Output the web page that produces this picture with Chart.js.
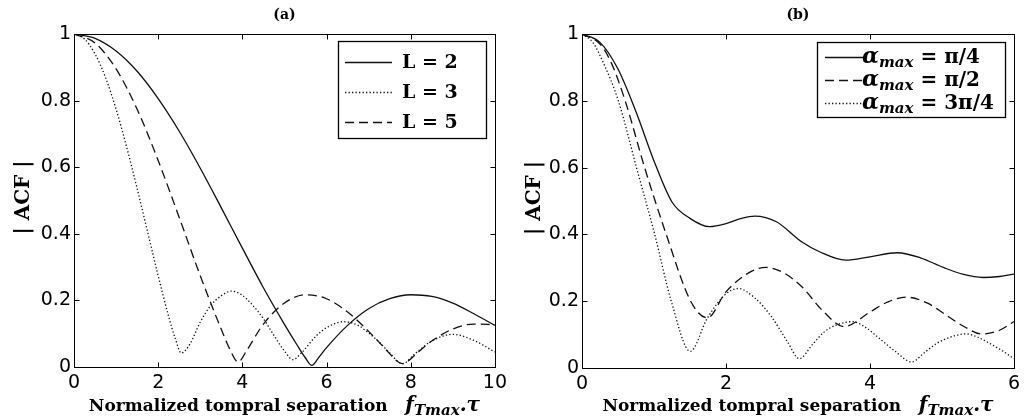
<!DOCTYPE html>
<html>
<head>
<meta charset="utf-8">
<script src="https://cdn.jsdelivr.net/npm/chart.js@4.4.1/dist/chart.umd.min.js"></script>
<style>
body { margin: 0; background: #fff; }
#wrap { position: relative; width: 1025px; height: 420px; }
#chartA { position: absolute; left: 0; top: 0; }
#chartB { position: absolute; left: 512px; top: 0; }
</style>
</head>
<body>
<div id="wrap">
<canvas id="chartA" width="512" height="420"></canvas>
<canvas id="chartB" width="513" height="420"></canvas>
</div>
<script>
// panel (a): |ACF| for different L
const labelsA = ['L = 2', 'L = 3', 'L = 5']
const xL2 = [0, 0.5, 1, 1.5, 2, 2.5, 3, 3.5, 4, 4.5, 5, 5.3, 5.5, 5.65, 5.8, 6, 6.5, 7, 7.5, 8, 8.5, 9, 9.5, 10]
const yL2 = [1, 0.987, 0.949, 0.888, 0.806, 0.708, 0.597, 0.478, 0.357, 0.238, 0.128, 0.066, 0.027, 0.005, 0.026, 0.058, 0.125, 0.175, 0.205, 0.217, 0.212, 0.192, 0.160, 0.125]
const xL3 = [0, 0.25, 0.5, 0.75, 1, 1.25, 1.5, 1.75, 2, 2.25, 2.4, 2.55, 2.75, 3, 3.25, 3.5, 3.75, 4, 4.25, 4.5, 4.75, 5, 5.2, 5.4, 5.75, 6, 6.4, 6.75, 7, 7.25, 7.5, 7.8, 8.1, 8.5, 9, 9.5, 10]
const yL3 = [1, 0.985, 0.940, 0.869, 0.774, 0.661, 0.536, 0.405, 0.274, 0.151, 0.088, 0.042, 0.068, 0.135, 0.185, 0.214, 0.228, 0.215, 0.185, 0.145, 0.095, 0.048, 0.022, 0.042, 0.093, 0.118, 0.136, 0.125, 0.102, 0.075, 0.042, 0.010, 0.040, 0.078, 0.098, 0.080, 0.045]
const xL5 = [0, 0.5, 1, 1.5, 2, 2.5, 3, 3.5, 3.7, 3.9, 4.1, 4.5, 5, 5.5, 6, 6.5, 7, 7.5, 7.65, 7.8, 7.95, 8.1, 8.5, 9, 9.5, 10]
const yL5 = [1, 0.973, 0.895, 0.774, 0.620, 0.449, 0.274, 0.113, 0.054, 0.015, 0.049, 0.129, 0.192, 0.217, 0.205, 0.165, 0.107, 0.040, 0.020, 0.010, 0.019, 0.036, 0.078, 0.114, 0.129, 0.127]

// panel (b): |ACF| for different alpha_max
const labelsB = ['α_max = π/4', 'α_max = π/2', 'α_max = 3π/4']
const xA1 = [0, 0.25, 0.5, 0.75, 1, 1.25, 1.5, 1.77, 2, 2.2, 2.4, 2.7, 3.05, 3.3, 3.66, 4, 4.38, 4.7, 5.02, 5.3, 5.57, 5.8, 6]
const yA1 = [1, 0.975, 0.895, 0.767, 0.62, 0.497, 0.448, 0.423, 0.432, 0.447, 0.455, 0.438, 0.378, 0.348, 0.323, 0.333, 0.345, 0.330, 0.301, 0.280, 0.271, 0.274, 0.281]
const xA2 = [0, 0.25, 0.41, 0.6, 0.87, 1.17, 1.51, 1.74, 2, 2.34, 2.56, 2.8, 3.05, 3.35, 3.64, 4.01, 4.25, 4.51, 4.8, 5.02, 5.3, 5.55, 5.8, 6]
const yA2 = [1, 0.97, 0.912, 0.80, 0.60, 0.40, 0.20, 0.15, 0.228, 0.288, 0.301, 0.285, 0.244, 0.17, 0.124, 0.169, 0.198, 0.212, 0.194, 0.164, 0.125, 0.102, 0.113, 0.139]
const xA3 = [0, 0.15, 0.3, 0.505, 0.757, 1.01, 1.24, 1.505, 1.74, 2, 2.17, 2.4, 2.63, 2.85, 3.02, 3.2, 3.37, 3.55, 3.76, 3.95, 4.1, 4.35, 4.58, 4.75, 4.93, 5.15, 5.34, 5.5, 5.66, 5.85, 6]
const yA3 = [1, 0.975, 0.912, 0.80, 0.60, 0.40, 0.20, 0.05, 0.149, 0.222, 0.238, 0.21, 0.154, 0.08, 0.028, 0.07, 0.109, 0.13, 0.139, 0.12, 0.094, 0.05, 0.018, 0.045, 0.074, 0.095, 0.102, 0.092, 0.074, 0.05, 0.028]

const yTicks = [0, 0.2, 0.4, 0.6, 0.8, 1]
const yTickLabels = ['0', '0.2', '0.4', '0.6', '0.8', '1']

const SERIF = '"DejaVu Serif", serif'
const SOLID = [], DASHED = [9, 5], DOTTED = [1.3, 2.2]

const pts = (xs, ys) => xs.map((x, i) => ({ x: x, y: ys[i] }))

function drawRich(ctx, parts, x, y, align) {
    let w = 0
    parts.forEach(p => { ctx.font = p.f; p.w = ctx.measureText(p.t).width; w += p.w })
    let cx = align === 'center' ? x - w / 2 : x
    ctx.textBaseline = 'alphabetic'
    ctx.textAlign = 'left'
    parts.forEach(p => {
        ctx.font = p.f
        ctx.fillText(p.t, cx, y + (p.dy || 0))
        cx += p.w
    })
}

function labelParts(label, o) {
    const m = label.match(/^(.*?)_(\w+)(.*)$/)
    if (!m) return [{ t: label, f: 'bold ' + o.size + 'px ' + SERIF }]
    return [
        { t: m[1], f: 'bold italic ' + (o.size + 2) + 'px ' + SERIF },
        { t: m[2], f: 'bold italic ' + o.subSize + 'px ' + SERIF, dy: 4 },
        { t: m[3], f: 'bold ' + o.size + 'px ' + SERIF }
    ]
}

const matlabFrame = {
    id: 'matlabFrame',
    afterDatasetsDraw(chart, args, opts) {
        const { ctx, chartArea: a, scales } = chart
        const L = Math.round(a.left) + 0.5, R = Math.round(a.right) + 0.5
        const T = Math.round(a.top) + 0.5, B = Math.round(a.bottom) + 0.5
        ctx.save()
        ctx.strokeStyle = '#000'
        ctx.lineWidth = 1
        ctx.setLineDash([])
        ctx.strokeRect(L, T, R - L, B - T)
        ctx.beginPath()
        scales.x.ticks.forEach(t => {
            const px = Math.round(scales.x.getPixelForValue(t.value)) + 0.5
            ctx.moveTo(px, B); ctx.lineTo(px, B - 5)
            ctx.moveTo(px, T); ctx.lineTo(px, T + 5)
        })
        scales.y.ticks.forEach(t => {
            const py = Math.round(scales.y.getPixelForValue(t.value)) + 0.5
            ctx.moveTo(L, py); ctx.lineTo(L + 5, py)
            ctx.moveTo(R, py); ctx.lineTo(R - 5, py)
        })
        ctx.stroke()

        const midX = (a.left + a.right) / 2
        ctx.fillStyle = '#000'
        // panel title
        ctx.font = 'bold 14px ' + SERIF
        ctx.textAlign = 'center'
        ctx.textBaseline = 'middle'
        ctx.fillText(opts.title, midX, 15)

        // y axis title
        ctx.save()
        ctx.translate(opts.yTitleX, (a.top + a.bottom) / 2 - 3)
        ctx.rotate(-Math.PI / 2)
        ctx.font = 'bold 20px ' + SERIF
        ctx.fillText('| ACF |', 0, 0)
        ctx.restore()

        // x axis title
        drawRich(ctx, [
            { t: 'Normalized tompral separation', f: 'bold 17px ' + SERIF },
            { t: '   ', f: 'bold 17px ' + SERIF },
            { t: 'f', f: 'bold italic 20px ' + SERIF },
            { t: 'Tmax', f: 'bold italic 15px ' + SERIF, dy: 4 },
            { t: '.τ', f: 'bold italic 20px ' + SERIF }
        ], midX, 411, 'center')

        // legend
        const lg = opts.legend
        const x0 = Math.round(a.right - lg.right - lg.width)
        const y0 = Math.round(a.top + lg.top)
        ctx.fillStyle = '#fff'
        ctx.fillRect(x0, y0, lg.width, lg.height)
        ctx.strokeStyle = '#000'
        ctx.lineWidth = 1.3
        ctx.strokeRect(x0 + 0.5, y0 + 0.5, lg.width, lg.height)
        ctx.fillStyle = '#000'
        chart.data.datasets.forEach((ds, i) => {
            const cy = y0 + lg.firstRow + i * lg.rowGap
            ctx.save()
            ctx.setLineDash(ds.borderDash)
            ctx.lineWidth = ds.borderWidth
            ctx.strokeStyle = ds.borderColor
            ctx.beginPath()
            ctx.moveTo(x0 + lg.lineX, cy + 0.5)
            ctx.lineTo(x0 + lg.lineX + lg.lineLen, cy + 0.5)
            ctx.stroke()
            ctx.restore()
            drawRich(ctx, labelParts(ds.label, lg), x0 + lg.textX, cy + 6, 'left')
        })
        ctx.restore()
    }
}

function makeDataset(label, xs, ys, dash) {
    return {
        label: label,
        data: pts(xs, ys),
        borderColor: '#111',
        borderWidth: 1.3,
        borderDash: dash,
        pointRadius: 0,
        fill: false,
        cubicInterpolationMode: 'monotone'
    }
}

function makeOptions(xMax, yWidth, xHeight, padRight, frame) {
    return {
        responsive: false,
        animation: false,
        devicePixelRatio: 1,
        layout: { padding: { top: 34, right: padRight, left: 0, bottom: 0 } },
        plugins: {
            legend: { display: false },
            tooltip: { enabled: false },
            matlabFrame: frame
        },
        scales: {
            x: {
                type: 'linear',
                min: 0, max: xMax,
                grid: { display: false, drawTicks: false },
                border: { display: false },
                ticks: { stepSize: 2, padding: 5, color: '#000', font: { family: '"DejaVu Sans"', size: 19 }, maxRotation: 0 },
                afterFit(scale) { scale.height = xHeight }
            },
            y: {
                min: 0, max: 1,
                grid: { display: false, drawTicks: false },
                border: { display: false },
                afterBuildTicks(scale) { scale.ticks = yTicks.map(v => ({ value: v })) },
                ticks: {
                    padding: 3, color: '#000', font: { family: '"DejaVu Sans"', size: 19 },
                    callback: (v) => yTickLabels[yTicks.indexOf(v)]
                },
                afterFit(scale) { scale.width = yWidth }
            }
        }
    }
}

new Chart(document.getElementById('chartA'), {
    type: 'line',
    data: {
        datasets: [
            makeDataset(labelsA[0], xL2, yL2, SOLID),
            makeDataset(labelsA[1], xL3, yL3, DOTTED),
            makeDataset(labelsA[2], xL5, yL5, DASHED)
        ]
    },
    options: makeOptions(10, 74, 53, 14, {
        title: '(a)', yTitleX: 24,
        legend: { right: 9, top: 7, width: 148, height: 97, firstRow: 21, rowGap: 30, lineX: 7, lineLen: 47, textX: 64, size: 19, subSize: 15 }
    }),
    plugins: [matlabFrame]
})

new Chart(document.getElementById('chartB'), {
    type: 'line',
    data: {
        datasets: [
            makeDataset(labelsB[0], xA1, yA1, SOLID),
            makeDataset(labelsB[1], xA2, yA2, DASHED),
            makeDataset(labelsB[2], xA3, yA3, DOTTED)
        ]
    },
    options: makeOptions(6, 70, 52, 7, {
        title: '(b)', yTitleX: 23,
        legend: { right: 9, top: 8, width: 188, height: 75, firstRow: 15, rowGap: 23, lineX: 8, lineLen: 39, textX: 45, size: 20, subSize: 15 }
    }),
    plugins: [matlabFrame]
})
</script>
</body>
</html>
